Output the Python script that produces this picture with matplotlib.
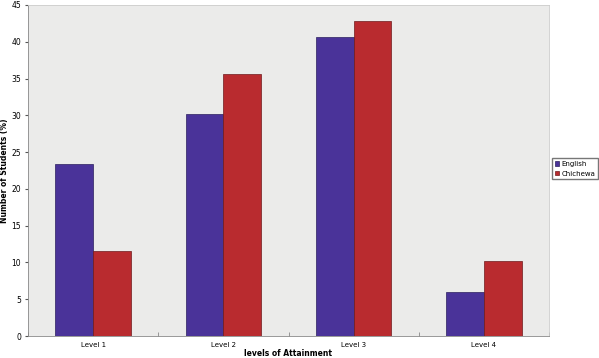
import matplotlib.pyplot as plt
import numpy as np

levels = ["Level 1", "Level 2", "Level 3", "Level 4"]
english = [23.4, 30.2, 40.6, 6.0]
chichewa = [11.6, 35.6, 42.8, 10.2]
yticks = [0, 5, 10, 15, 20, 25, 30, 35, 40, 45]

fig = plt.figure(figsize=(5.99, 3.58), dpi=100)
ax = fig.add_axes([28 / 599, 22 / 358, 521 / 599, 331 / 358])
ax.set_facecolor("#ebebea")

x = np.arange(len(levels))
w = 0.29
ax.bar(x - w / 2, english, w, color="#4a3399", edgecolor="#2a1f5e", linewidth=0.5, label="English")
ax.bar(x + w / 2, chichewa, w, color="#b92b2f", edgecolor="#6e1a1c", linewidth=0.5, label="Chichewa")

ax.set_xlim(-0.5, len(levels) - 0.5)
ax.set_ylim(0, 45)
ax.set_yticks(yticks)
ax.set_xticks(x)
ax.set_xticklabels(levels)
ax.set_xticks(np.arange(len(levels) + 1) - 0.5, minor=True)
ax.tick_params(axis="x", which="major", length=0, labelsize=5, pad=4)
ax.tick_params(axis="x", which="minor", length=3, direction="in", color="#888888")
ax.tick_params(axis="y", labelsize=5.5, length=2, color="#555555", pad=3)

for side in ["top", "right"]:
    ax.spines[side].set_color("#cccccc")
    ax.spines[side].set_linewidth(0.6)
for side in ["left", "bottom"]:
    ax.spines[side].set_color("#888888")
    ax.spines[side].set_linewidth(0.6)

ax.set_xlabel("levels of Attainment", fontsize=5.5, fontweight="bold", labelpad=1)
ax.set_ylabel("Number of Students (%)", fontsize=5.5, fontweight="bold", labelpad=2)

ax.legend(loc="center left", bbox_to_anchor=(1.006, 0.505), fontsize=5, frameon=True,
          fancybox=False, edgecolor="#555555", handlelength=0.6, handleheight=0.6,
          handletextpad=0.3, borderpad=0.4, labelspacing=0.5, borderaxespad=0)

fig.savefig("out.png", dpi=100)
